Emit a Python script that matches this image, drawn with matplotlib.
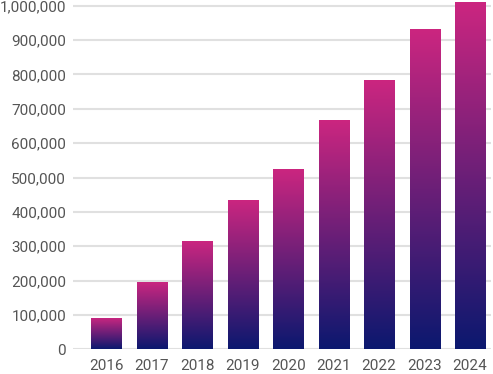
import matplotlib
matplotlib.use("Agg")
import matplotlib.pyplot as plt
import numpy as np
from matplotlib.colors import LinearSegmentedColormap
from matplotlib.ticker import FuncFormatter, MultipleLocator

years = ["2016", "2017", "2018", "2019", "2020", "2021", "2022", "2023", "2024"]
values = [91000, 196000, 315000, 434000, 525000, 667000, 784000, 932000, 1010000]

bottom_color = "#0b186f"
top_color = "#cc2680"

plt.rcParams['font.family'] = ['Roboto', 'DejaVu Sans']

fig = plt.figure(figsize=(4.93, 3.74), dpi=100)
ax = fig.add_axes([73/493, 24.7/374, (491-73)/493, (374-24.7)/374])

x = np.arange(len(years))
bars = ax.bar(x, values, width=0.66, color="none", edgecolor="none", zorder=2)

cmap = LinearSegmentedColormap.from_list("grad", [bottom_color, top_color])
grad = np.linspace(0, 1, 256).reshape(-1, 1)
for b in bars:
    x0, w, h = b.get_x(), b.get_width(), b.get_height()
    im = ax.imshow(grad, cmap=cmap, origin="lower", aspect="auto",
                   extent=[x0, x0 + w, 0, h], zorder=2, interpolation="bilinear")
    im.set_clip_path(b)

ax.set_xlim(-0.733, 8.46)
ax.set_ylim(0, 1016600)
ax.set_xticks(x)
ax.set_xticklabels(years)
ax.yaxis.set_major_locator(MultipleLocator(100000))
ax.yaxis.set_major_formatter(FuncFormatter(lambda v, p: f"{int(v):,}"))

ax.grid(axis="y", color="#e0e0e0", linewidth=1.5, zorder=0)
ax.set_axisbelow(True)
for s in ax.spines.values():
    s.set_visible(False)
ax.tick_params(axis="both", length=0, labelsize=11, labelcolor="#555555")
ax.tick_params(axis="y", pad=5)
ax.tick_params(axis="x", pad=7)

fig.savefig("out.png", dpi=100)
